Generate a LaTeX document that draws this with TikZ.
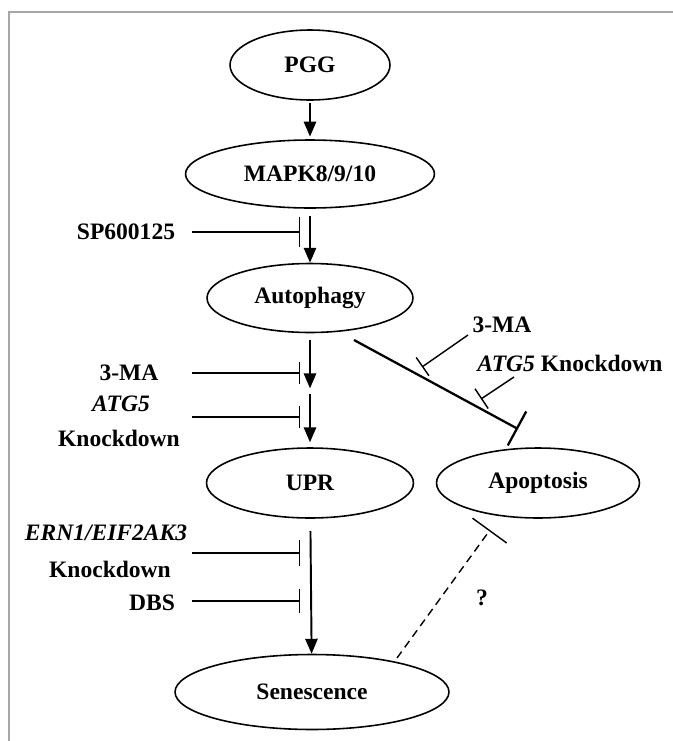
\documentclass[tikz,border=0pt]{standalone}
\usepackage{fontspec}
\setmainfont{Liberation Serif}
\usetikzlibrary{shapes.geometric, arrows.meta, positioning}

\begin{document}
\begin{tikzpicture}
    [x=0.02cm, y=-0.02cm,
    post/.style={draw,-{Triangle[length=8.5pt,width=7pt]},line width=1.1pt},
    inh/.style={draw,-{Bar[width=#1]},line width=0.8pt},
    inh/.default=13.5pt,
    ob/.style={ellipse,draw,line width=0.9pt,inner sep=0pt,font=\fontsize{13.4}{16}\selectfont\bfseries},
    lab/.style={inner sep=0pt,font=\fontsize{13.4}{16}\selectfont\bfseries}]
    \useasboundingbox (0,0) rectangle (673,741);
    \draw[gray!70, line width=1.1pt] (9,741) -- (9,12) -- (673,12);
    \node [ob,minimum width=3.2cm,minimum height=1.4cm] (PGG) at (310,65) {PGG};
    \node [ob,minimum width=4.98cm,minimum height=1.36cm] (MAPK) at (310,174) {MAPK8/9/10};
    \node [ob,minimum width=4.12cm,minimum height=1.38cm] (Auto) at (310,298) {Autophagy};
    \node [ob,minimum width=4.14cm,minimum height=1.4cm] (UPR) at (310,483) {UPR};
    \node [ob,minimum width=4.06cm,minimum height=1.4cm] (Apop) at (538,483) {Apoptosis};
    \node [ob,minimum width=5.48cm,minimum height=1.5cm] (Sen) at (312,692) {Senescence};
    \node [lab] (SP) at (126,232) {SP600125};
    \node [lab] (MA) at (129,373) {3-MA};
    \node [lab] (ATG) at (121,404) {\textit{ATG5}};
    \node [lab] (ATGk) at (119,438) {Knockdown};
    \node [lab] (ERN) at (106,533) {\textit{ERN1/EIF2AK3}};
    \node [lab] (ERNk) at (110,569) {Knockdown};
    \node [lab] (DBS) at (152,603) {DBS};
    \node [lab] (MAr) at (502,325) {3-MA};
    \node [lab] (ATGr) at (570,363) {\textit{ATG5} Knockdown};
    \node [lab] (Q) at (482,598) {?};
    \coordinate (mid) at (310,391);
    \draw[post, shorten <=1pt, shorten >=1.5pt] (PGG) -- (MAPK);
    \draw[post, shorten <=4pt] (MAPK) -- (Auto);
    \draw[post, shorten <=4pt, shorten >=1.5pt] (Auto) -- (mid);
    \draw[post, shorten <=1.5pt, shorten >=2.8pt] (mid) -- (UPR);
    \draw[post, shorten <=7pt] (UPR) -- (Sen);
    \coordinate (sp0) at (192,232);
    \coordinate (sp1) at (300,232);
    \coordinate (ma0) at (192,373);
    \coordinate (ma1) at (300,373);
    \coordinate (atg0) at (192,417);
    \coordinate (atg1) at (300,417);
    \coordinate (ern0) at (192,553);
    \coordinate (ern1) at (300,553);
    \coordinate (dbs0) at (192,601);
    \coordinate (dbs1) at (300,601);
    \draw[inh=17.5pt] (sp0) -- (sp1);
    \draw[inh=12.5pt] (ma0) -- (ma1);
    \draw[inh=12.5pt] (atg0) -- (atg1);
    \draw[inh=15pt] (ern0) -- (ern1);
    \draw[inh=14pt] (dbs0) -- (dbs1);
    \coordinate (d0) at (354,340);
    \coordinate (d1) at (518,429);
    \draw[inh=22pt, line width=1.3pt] (d0) -- (d1);
    \coordinate (mr0) at (468,335);
    \coordinate (mr1) at (422,367);
    \coordinate (ar0) at (514,377);
    \coordinate (ar1) at (481,399);
    \draw[inh=12.7pt] (mr0) -- (mr1);
    \draw[inh=13.5pt] (ar0) -- (ar1);
    \coordinate (q0) at (397,658);
    \coordinate (q1) at (490,530);
    \draw[inh=24pt, dash pattern=on 4.5pt off 3pt] (q0) -- (q1);
\end{tikzpicture}
\end{document}
